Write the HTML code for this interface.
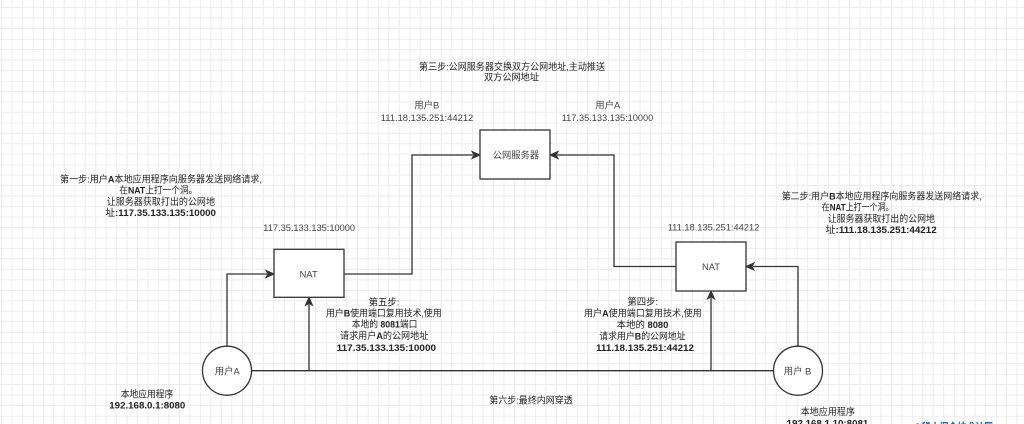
<!DOCTYPE html>
<html><head><meta charset="utf-8"><style>
html,body{margin:0;padding:0;background:#fff;}
svg{display:block;}
text{font-family:"Liberation Sans","Noto Sans CJK SC",sans-serif;}
.s{font-size:9.4px;fill:#222;}
.l{font-size:9.4px;fill:#444;}
.b{font-weight:bold;}
</style></head><body>
<svg width="1024" height="424" viewBox="0 0 1024 424" xmlns="http://www.w3.org/2000/svg">
<defs>
<pattern id="g" patternUnits="userSpaceOnUse" x="32.82" y="-2.88" width="41.88" height="41.88">
<path d="M10.47 0V41.88M20.94 0V41.88M31.41 0V41.88M0 10.47H41.88M0 20.94H41.88M0 31.41H41.88" stroke="#ececec" stroke-width="1" fill="none"/>
<path d="M0 0V41.88M0 0H41.88" stroke="#e0e0e0" stroke-width="1" fill="none"/>
</pattern>
</defs>
<rect width="1024" height="424" fill="#fff"/>
<rect width="1024" height="424" fill="url(#g)"/>

<g stroke="#333" stroke-width="1.3" fill="none">
<polyline points="227,346.5 227,274 267,274"/>
<polyline points="344,274 412,274 412,155 473,155"/>
<polyline points="676,266.5 614,266.5 614,155 557,155"/>
<polyline points="798,346.5 798,266.5 753,266.5"/>
<line x1="251.5" y1="370.7" x2="774" y2="370.7"/>
<line x1="309" y1="370.7" x2="309" y2="304"/>
<line x1="711" y1="370.7" x2="711" y2="298"/>
</g>
<g fill="#333" stroke="#333" stroke-width="1">
<path d="M274,274 L266,270.5 L268,274 L266,277.5Z"/>
<path d="M480,155 L472,151.5 L474,155 L472,158.5Z"/>
<path d="M550,155 L558,151.5 L556,155 L558,158.5Z"/>
<path d="M746,266.5 L754,263 L752,266.5 L754,270Z"/>
<path d="M309,297.3 L305.5,305.3 L309,303.3 L312.5,305.3Z"/>
<path d="M711,291 L707.5,299 L711,297 L714.5,299Z"/>
</g>

<g stroke="#333" stroke-width="1.3" fill="#fff">
<rect x="480" y="130" width="70" height="49"/>
<rect x="274" y="249.3" width="70" height="48"/>
<rect x="676" y="242" width="70" height="49"/>
<circle cx="227" cy="370.7" r="24.5"/>
<circle cx="798" cy="370.7" r="24.5"/>
</g>

<!-- node labels -->
<text class="l" x="492.7" y="158.4" textLength="46.3" lengthAdjust="spacingAndGlyphs">公网服务器</text>
<text class="l" x="308.7" y="277.4" text-anchor="middle">NAT</text>
<text class="l" x="711" y="269.9" text-anchor="middle">NAT</text>
<text class="l" x="227.3" y="374.4" text-anchor="middle">用户A</text>
<text class="l" x="797.5" y="374.4" text-anchor="middle">用户 B</text>

<!-- step 3 -->
<text class="s" x="419" y="70.1" textLength="186" lengthAdjust="spacingAndGlyphs">第三步:公网服务器交换双方公网地址,主动推送</text>
<text class="s" x="484" y="80.7" textLength="55" lengthAdjust="spacingAndGlyphs">双方公网地址</text>
<text class="l" x="426.7" y="108.4" text-anchor="middle">用户B</text>
<text class="l" x="380.7" y="121.1" textLength="92.6" lengthAdjust="spacingAndGlyphs">111.18.135.251:44212</text>
<text class="l" x="607.7" y="108.4" text-anchor="middle">用户A</text>
<text class="l" x="561.7" y="121.1" textLength="91.6" lengthAdjust="spacingAndGlyphs">117.35.133.135:10000</text>

<!-- step 1 -->
<text class="s" x="60" y="182.7" textLength="202" lengthAdjust="spacingAndGlyphs">第一步:用户<tspan class="b">A</tspan>本地应用程序向服务器发送网络请求,</text>
<text class="s" x="119.3" y="193.7" textLength="78" lengthAdjust="spacingAndGlyphs">在<tspan class="b">NAT</tspan>上打一个洞。</text>
<text class="s" x="106.7" y="205.1" textLength="108.3" lengthAdjust="spacingAndGlyphs">让服务器获取打出的公网地</text>
<text class="s" x="105.3" y="216.1" textLength="110.7" lengthAdjust="spacingAndGlyphs">址<tspan class="b">:117.35.133.135:10000</tspan></text>
<text class="l" x="263.3" y="231.1" textLength="91.7" lengthAdjust="spacingAndGlyphs">117.35.133.135:10000</text>

<!-- step 2 -->
<text class="s" x="781.7" y="199.6" textLength="200" lengthAdjust="spacingAndGlyphs">第二步:用户<tspan class="b">B</tspan>本地应用程序向服务器发送网络请求,</text>
<text class="s" x="821.7" y="210.7" textLength="72" lengthAdjust="spacingAndGlyphs">在<tspan class="b">NAT</tspan>上打一个洞。</text>
<text class="s" x="827.7" y="221.8" textLength="107.3" lengthAdjust="spacingAndGlyphs">让服务器获取打出的公网地</text>
<text class="s" x="825.7" y="232.9" textLength="111" lengthAdjust="spacingAndGlyphs">址<tspan class="b">:111.18.135.251:44212</tspan></text>
<text class="l" x="667.7" y="230.7" textLength="91.6" lengthAdjust="spacingAndGlyphs">111.18.135.251:44212</text>

<!-- step 5 -->
<text class="s" x="384" y="305.7" text-anchor="middle">第五步:</text>
<text class="s" x="326" y="316.7" textLength="115.7" lengthAdjust="spacingAndGlyphs">用户<tspan class="b">B</tspan>使用端口复用技术,使用</text>
<text class="s" x="351.7" y="327.7" textLength="65.7" lengthAdjust="spacingAndGlyphs">本地的 <tspan class="b">8081</tspan>端口</text>
<text class="s" x="340" y="339.1" textLength="88.3" lengthAdjust="spacingAndGlyphs">请求用户<tspan class="b">A</tspan>的公网地址</text>
<text class="s b" x="336.7" y="351" textLength="99.3" lengthAdjust="spacingAndGlyphs">117.35.133.135:10000</text>

<!-- step 4 -->
<text class="s" x="642.7" y="305.1" text-anchor="middle">第四步:</text>
<text class="s" x="584" y="316.7" textLength="117.7" lengthAdjust="spacingAndGlyphs">用户<tspan class="b">A</tspan>使用端口复用技术,使用</text>
<text class="s" x="616.7" y="328.1" textLength="51.7" lengthAdjust="spacingAndGlyphs">本地的 <tspan class="b">8080</tspan></text>
<text class="s" x="599.3" y="339.4" textLength="86.3" lengthAdjust="spacingAndGlyphs">请求用户<tspan class="b">B</tspan>的公网地址</text>
<text class="s b" x="596" y="351.2" textLength="98" lengthAdjust="spacingAndGlyphs">111.18.135.251:44212</text>

<!-- step 6 -->
<text class="s" x="489.3" y="403.7" textLength="83.4" lengthAdjust="spacingAndGlyphs">第六步:最终内网穿透</text>

<!-- local apps -->
<text class="s" x="120.7" y="397.4" textLength="52.6" lengthAdjust="spacingAndGlyphs">本地应用程序</text>
<text class="s b" x="109.3" y="408.4" textLength="76" lengthAdjust="spacingAndGlyphs">192.168.0.1:8080</text>
<text class="s" x="800.7" y="415.1" textLength="54.3" lengthAdjust="spacingAndGlyphs">本地应用程序</text>
<text class="s b" x="786.7" y="426.6" textLength="81.6" lengthAdjust="spacingAndGlyphs">192.168.1.10:8081</text>

<!-- cut-off watermark -->
<text x="913" y="432" font-size="12" font-weight="bold" fill="#1e5aa0" textLength="80" lengthAdjust="spacingAndGlyphs">@稀土掘金技术社区</text>
</svg>
</body></html>
